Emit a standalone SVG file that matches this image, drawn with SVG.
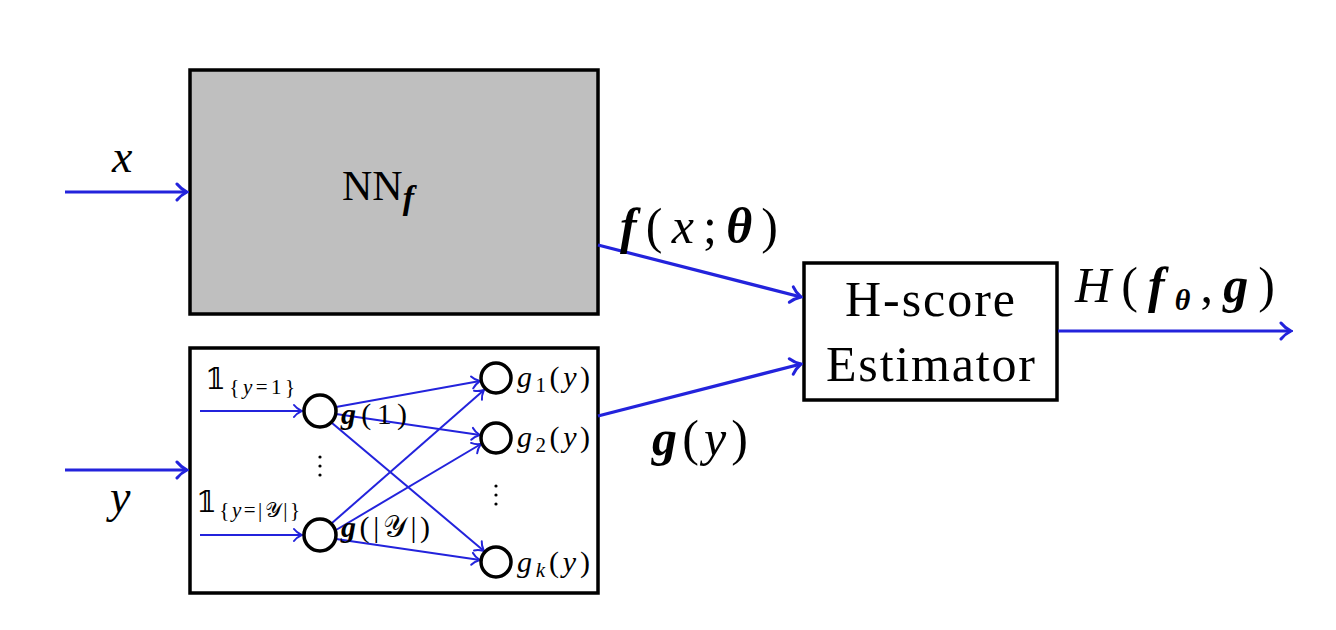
<svg xmlns="http://www.w3.org/2000/svg" width="1336" height="630" viewBox="0 0 1336 630">
<defs>
<style>
.box{stroke:#000;stroke-width:3.5}
.c{fill:#fff;stroke:#000;stroke-width:3.5}
.w{stroke:#2323dc;fill:none}
.big{stroke-width:3.2}
.sm{stroke-width:2}
.t{font-family:"Liberation Serif","DejaVu Serif",serif;fill:#000}
.i{font-style:italic}
.b{font-weight:bold;font-style:italic}
</style>
<marker id="ah" viewBox="-12 -10 14 20" markerWidth="14" markerHeight="20" refX="0" refY="0" orient="auto" markerUnits="userSpaceOnUse">
<path d="M-10,-8 C-6,-3 -2,-1 0,0 C-2,1 -6,3 -10,8" fill="none" stroke="#2323dc" stroke-width="3" stroke-linecap="round"/>
</marker>
<marker id="ahs" viewBox="-10 -8 12 16" markerWidth="12" markerHeight="16" refX="0" refY="0" orient="auto" markerUnits="userSpaceOnUse">
<path d="M-8,-6 C-5,-2 -2,-1 0,0 C-2,1 -5,2 -8,6" fill="none" stroke="#2323dc" stroke-width="2" stroke-linecap="round"/>
</marker>
</defs>
<rect width="1336" height="630" fill="#fff"/>

<g id="nn">
<rect class="box" x="190" y="70" width="408" height="244" fill="#bfbfbf"/>
<text class="t" x="342" y="200" font-size="42">NN<tspan class="b" font-size="34" dy="9">f</tspan></text>
</g>

<g id="embed">
<rect class="box" x="190" y="348" width="408" height="245" fill="#fff"/>
</g>

<g id="hscore">
<rect class="box" x="804" y="263" width="253" height="137" fill="#fff"/>
<text class="t" x="845" y="316" font-size="50" textLength="170" lengthAdjust="spacing">H-score</text>
<text class="t" x="826" y="381" font-size="50" textLength="209" lengthAdjust="spacing">Estimator</text>
</g>

<g id="connectors">
<line class="w big" x1="65" y1="192" x2="187" y2="192" marker-end="url(#ah)"/>
<line class="w big" x1="65" y1="470" x2="187" y2="470" marker-end="url(#ah)"/>
<line class="w big" x1="598" y1="245" x2="801" y2="297" marker-end="url(#ah)"/>
<line class="w big" x1="598" y1="416" x2="801" y2="364" marker-end="url(#ah)"/>
<line class="w big" x1="1058" y1="331" x2="1291" y2="331" marker-end="url(#ah)"/>
<line class="w sm" x1="200" y1="411" x2="302" y2="411" marker-end="url(#ahs)"/>
<line class="w sm" x1="200" y1="535" x2="302" y2="535" marker-end="url(#ahs)"/>
<line class="w sm" x1="336" y1="407" x2="480" y2="381" marker-end="url(#ahs)"/>
<line class="w sm" x1="336" y1="414" x2="480" y2="435" marker-end="url(#ahs)"/>
<line class="w sm" x1="332" y1="423" x2="484" y2="551" marker-end="url(#ahs)"/>
<line class="w sm" x1="332" y1="523" x2="484" y2="390" marker-end="url(#ahs)"/>
<line class="w sm" x1="336" y1="530" x2="481" y2="444" marker-end="url(#ahs)"/>
<line class="w sm" x1="336" y1="539" x2="480" y2="560" marker-end="url(#ahs)"/>
</g>

<g id="node-in1"><circle class="c" cx="320" cy="411" r="16"/></g>
<g id="node-in2"><circle class="c" cx="320" cy="535" r="16"/></g>
<g id="node-out1"><circle class="c" cx="496" cy="378" r="15"/></g>
<g id="node-out2"><circle class="c" cx="496" cy="438" r="15"/></g>
<g id="node-outk"><circle class="c" cx="496" cy="562" r="15"/></g>

<g id="labels">
<text class="t i" x="112" y="172" font-size="46">x</text>
<text class="t i" x="110" y="512" font-size="46">y</text>
<text class="t" x="620" y="243" font-size="50" textLength="158" lengthAdjust="spacing"><tspan class="b">f</tspan>(<tspan class="i">x</tspan>;<tspan class="b">θ</tspan>)</text>
<text class="t" x="652" y="455" font-size="50" textLength="96" lengthAdjust="spacing"><tspan class="b">g</tspan>(<tspan class="i">y</tspan>)</text>
<text class="t" x="1075" y="302" font-size="50" textLength="200" lengthAdjust="spacing"><tspan class="i">H</tspan>(<tspan class="b">f</tspan><tspan class="b" font-size="30" dy="8">θ</tspan><tspan dy="-8">,</tspan><tspan class="b">g</tspan>)</text>

<text class="t" x="205" y="389" font-size="30" textLength="90" lengthAdjust="spacing">𝟙<tspan font-size="21" dy="5">{<tspan class="i">y</tspan>=1}</tspan></text>
<text class="t" x="196" y="512" font-size="30" textLength="104" lengthAdjust="spacing">𝟙<tspan font-size="21" dy="5">{<tspan class="i">y</tspan>=|𝒴|}</tspan></text>
<text class="t" x="341" y="424" font-size="30" textLength="66" lengthAdjust="spacing"><tspan class="b">g</tspan>(1)</text>
<text class="t" x="341" y="537" font-size="30" textLength="89" lengthAdjust="spacing"><tspan class="b">g</tspan>(|𝒴|)</text>
<text class="t" x="517" y="387" font-size="30" textLength="73" lengthAdjust="spacing"><tspan class="i">g</tspan><tspan font-size="21" dy="5">1</tspan><tspan dy="-5">(</tspan><tspan class="i">y</tspan>)</text>
<text class="t" x="517" y="447" font-size="30" textLength="73" lengthAdjust="spacing"><tspan class="i">g</tspan><tspan font-size="21" dy="5">2</tspan><tspan dy="-5">(</tspan><tspan class="i">y</tspan>)</text>
<text class="t" x="517" y="572" font-size="30" textLength="73" lengthAdjust="spacing"><tspan class="i">g</tspan><tspan class="i" font-size="21" dy="5">k</tspan><tspan dy="-5">(</tspan><tspan class="i">y</tspan>)</text>
<g fill="#000">
<circle cx="320" cy="457" r="1.6"/><circle cx="320" cy="466" r="1.6"/><circle cx="320" cy="475" r="1.6"/>
<circle cx="496" cy="486" r="1.6"/><circle cx="496" cy="495" r="1.6"/><circle cx="496" cy="504" r="1.6"/>
</g>
</g>
</svg>
